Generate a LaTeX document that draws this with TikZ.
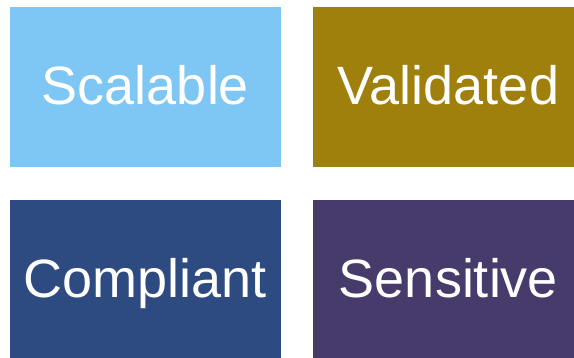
\documentclass[tikz,border=0pt]{standalone}
\usepackage{fontspec}
\setmainfont{Liberation Sans}
\usepackage{tikz}
\usetikzlibrary{positioning}
\definecolor{skyblue}{HTML}{7EC6F3}
\definecolor{olive}{HTML}{A0800D}
\definecolor{navy}{HTML}{2E4B81}
\definecolor{plum}{HTML}{463B6B}
\tikzset{
		tile/.style={rectangle, inner sep=0pt, outer sep=0pt,
			minimum width=271pt, minimum height=160pt,
			text=white, font=\fontsize{54}{60}\selectfont,
			text height=44pt, text depth=9pt}
	}

\begin{document}
\begin{tikzpicture}[x=1pt,y=-1pt]
		\useasboundingbox (0,0) rectangle (574,358);
		\clip (0,0) rectangle (574,358);
		\node[tile, fill=skyblue, anchor=north west] (scal) at (10,7)       {Scalable};
		\node[tile, fill=olive]  (valid) [right=32pt of scal]   {Validated};
		\node[tile, fill=navy]   (compl) [below=33pt of scal]   {Compliant};
		\node[tile, fill=plum]   (sens)  [below=33pt of valid]  {Sensitive};
	\end{tikzpicture}
\end{document}
